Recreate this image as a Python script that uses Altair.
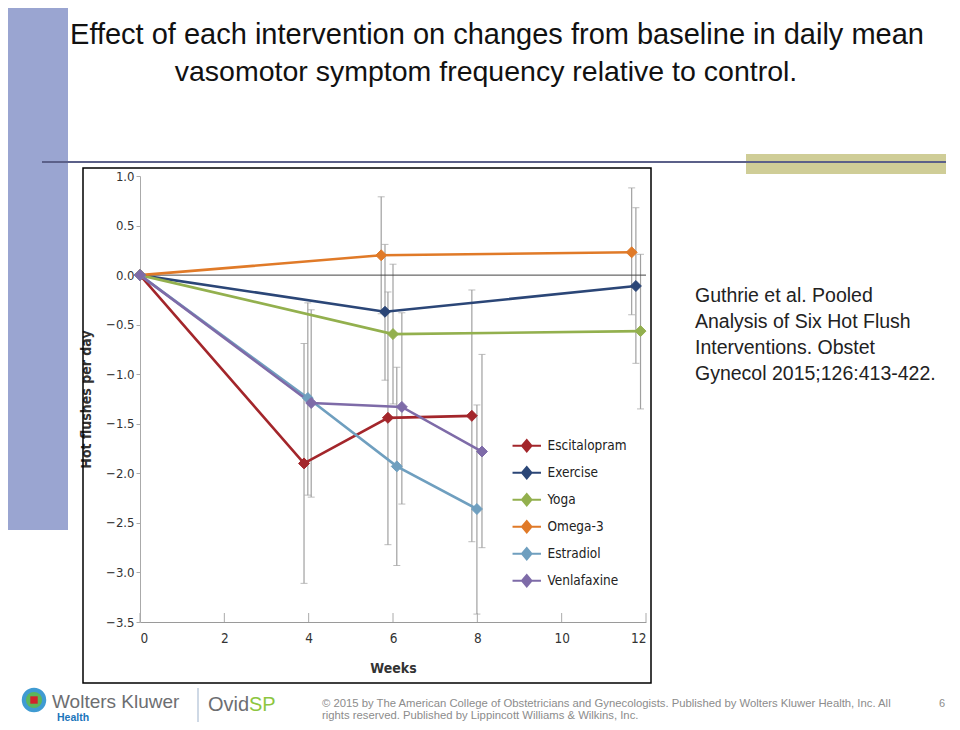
import altair as alt
import pandas as pd

# ---------------- data ----------------
series = ["Escitalopram", "Exercise", "Yoga", "Omega-3", "Estradiol", "Venlafaxine"]
colors = ["#A3262B", "#2B4677", "#93B04E", "#E07A28", "#6F9FBF", "#7E6BA8"]

esc_x = [0, 3.89, 5.88, 7.87]
esc_y = [0, -1.90, -1.44, -1.42]
esc_lo = [None, -3.11, -2.72, -2.69]
esc_hi = [None, -0.69, -0.17, -0.15]

ex_x = [0, 5.81, 11.76]
ex_y = [0, -0.37, -0.11]
ex_lo = [None, -1.06, -0.89]
ex_hi = [None, 0.31, 0.68]

yoga_x = [0, 6.0, 11.87]
yoga_y = [0, -0.595, -0.565]
yoga_lo = [None, -1.30, -1.35]
yoga_hi = [None, 0.11, 0.21]

om_x = [0, 5.72, 11.66]
om_y = [0, 0.20, 0.23]
om_lo = [None, -0.39, -0.40]
om_hi = [None, 0.79, 0.88]

est_x = [0, 3.98, 6.09, 7.99]
est_y = [0, -1.24, -1.93, -2.36]
est_lo = [None, -2.22, -2.93, -3.42]
est_hi = [None, -0.28, -0.93, -1.31]

ven_x = [0, 4.06, 6.21, 8.11]
ven_y = [0, -1.29, -1.33, -1.78]
ven_lo = [None, -2.24, -2.31, -2.75]
ven_hi = [None, -0.35, -0.38, -0.80]

x_ticks = [0, 2, 4, 6, 8, 10, 12]
y_ticks = [1.0, 0.5, 0.0, -0.5, -1.0, -1.5, -2.0, -2.5, -3.0, -3.5]

title_lines = [
    "Effect of each intervention on changes from baseline in daily mean",
    "vasomotor symptom frequency relative to control.",
]
citation_lines = [
    "Guthrie et al. Pooled",
    "Analysis of Six Hot Flush",
    "Interventions. Obstet",
    "Gynecol 2015;126:413-422.",
]
copyright_lines = [
    "\u00a9 2015 by The American College of Obstetricians and Gynecologists. Published by Wolters Kluwer Health, Inc.  All",
    "rights reserved.  Published by Lippincott Williams & Wilkins, Inc.",
]

# ---------------- table ----------------
rows = []
for name, xs, ys, los, his in [
    ("Escitalopram", esc_x, esc_y, esc_lo, esc_hi),
    ("Exercise", ex_x, ex_y, ex_lo, ex_hi),
    ("Yoga", yoga_x, yoga_y, yoga_lo, yoga_hi),
    ("Omega-3", om_x, om_y, om_lo, om_hi),
    ("Estradiol", est_x, est_y, est_lo, est_hi),
    ("Venlafaxine", ven_x, ven_y, ven_lo, ven_hi),
]:
    for i, (xv, yv, lo, hi) in enumerate(zip(xs, ys, los, his)):
        rows.append({"series": name, "order": i, "week": xv, "value": yv,
                     "lo": lo, "hi": hi})
df = pd.DataFrame(rows)

NARROW = "DejaVu Sans Condensed, Liberation Sans, Arial, sans-serif"
SANS = "Liberation Sans, Arial, sans-serif"
W, H = 506, 446

xscale = alt.Scale(domain=[0, 12], nice=False, zero=False)
yscale = alt.Scale(domain=[-3.5, 1.0], nice=False, zero=False)
cscale = alt.Scale(domain=series, range=colors)

leg = alt.Legend(title=None, orient="none", legendX=380, legendY=263,
                 symbolType="M-3,0L3,0M-1,0L0,-1.2L1,0L0,1.2Z",
                 symbolSize=90, symbolStrokeWidth=2,
                 labelFont=NARROW, labelFontSize=13.5, labelColor="#222",
                 labelOffset=14, rowPadding=7, padding=0)

xaxis = alt.Axis(values=x_ticks, format="d", ticks=False, grid=False,
                 domainColor="#9a9a9a", labelFont=NARROW, labelFontSize=13.5,
                 labelColor="#333", labelPadding=9, title="Weeks",
                 titleFont=NARROW, titleFontSize=14, titleFontWeight="bold",
                 titleColor="#333", titlePadding=17)
yaxis = alt.Axis(values=y_ticks, format=".1f", grid=False, tickSize=4,
                 tickColor="#aaa", domainColor="#aaa", labelFont=NARROW,
                 labelFontSize=13, labelColor="#333", labelPadding=2,
                 title="Hot flushes per day", titleFont=NARROW,
                 titleFontSize=14, titleFontWeight="bold", titleColor="#333",
                 titlePadding=12)

one = pd.DataFrame({"a": [0]})


def deco():
    return alt.Chart(one)


# slide decorations
left_bar = deco().mark_rect(color="#9AA5D1").encode(
    x=alt.value(-140), x2=alt.value(-72), y=alt.value(-176), y2=alt.value(354))
olive = deco().mark_rect(color="#CFCD97").encode(
    x=alt.value(606), x2=alt.value(806), y=alt.value(-22), y2=alt.value(-2))
hline = deco().mark_rule(color="#5B6089", strokeWidth=2).encode(
    x=alt.value(-98), x2=alt.value(806), y=alt.value(-14))
frame = deco().mark_rect(fillOpacity=0, stroke="black", strokeWidth=1.5).encode(
    x=alt.value(-57), x2=alt.value(511), y=alt.value(-8), y2=alt.value(507))

title1 = deco().mark_text(text=title_lines[0], font=SANS, fontSize=29,
                          align="center", baseline="alphabetic", color="#111").encode(
    x=alt.value(357), y=alt.value(-132))
title2 = deco().mark_text(text=title_lines[1], font=SANS, fontSize=28.5,
                          align="center", baseline="alphabetic", color="#111").encode(
    x=alt.value(346), y=alt.value(-95))

cit_layers = []
for i, line in enumerate(citation_lines):
    cit_layers.append(deco().mark_text(text=line, font=SANS, fontSize=19.5,
                                       align="left", baseline="alphabetic",
                                       color="#222").encode(
        x=alt.value(555), y=alt.value(126 + 26 * i)))

logo_outer = deco().mark_point(shape="circle", filled=True, size=600,
                               color="#3F9BD2", opacity=1).encode(
    x=alt.value(-106), y=alt.value(524))
logo_mid = deco().mark_point(shape="circle", filled=True, size=260,
                             color="#5DB65B", opacity=1).encode(
    x=alt.value(-106), y=alt.value(524))
logo_core = deco().mark_point(shape="square", filled=True, size=55,
                              color="#D2232A", opacity=1).encode(
    x=alt.value(-106), y=alt.value(524))
wk = deco().mark_text(text="Wolters Kluwer", font=SANS, fontSize=19,
                      align="left", baseline="alphabetic", color="#6D6E71").encode(
    x=alt.value(-88), y=alt.value(532))
health = deco().mark_text(text="Health", font=SANS, fontSize=10.5, fontWeight="bold",
                          align="left", baseline="alphabetic", color="#1B75BB").encode(
    x=alt.value(-83), y=alt.value(544.5))
vline = deco().mark_rule(color="#9FB3CC", strokeWidth=1).encode(
    x=alt.value(58), y=alt.value(512), y2=alt.value(546))
ovid = deco().mark_text(text="Ovid", font=SANS, fontSize=20,
                        align="right", baseline="alphabetic", color="#6D6E71").encode(
    x=alt.value(109), y=alt.value(535))
sp = deco().mark_text(text="SP", font=SANS, fontSize=20,
                      align="left", baseline="alphabetic", color="#8DC63F").encode(
    x=alt.value(109), y=alt.value(535))
copy1 = deco().mark_text(text=copyright_lines[0], font=SANS, fontSize=11.3,
                         align="left", baseline="alphabetic", color="#8C8C8C").encode(
    x=alt.value(182), y=alt.value(531))
copy2 = deco().mark_text(text=copyright_lines[1], font=SANS, fontSize=11.3,
                         align="left", baseline="alphabetic", color="#8C8C8C").encode(
    x=alt.value(182), y=alt.value(543))
page_no = deco().mark_text(text="6", font=SANS, fontSize=11,
                           align="right", baseline="alphabetic", color="#8C8C8C").encode(
    x=alt.value(805), y=alt.value(531))

# chart marks
base = alt.Chart(df)

zero = alt.Chart(pd.DataFrame({"z": [0.0]})).mark_rule(
    color="#444", strokeWidth=1).encode(y=alt.Y("z:Q", scale=yscale, axis=yaxis))

xticks_up = alt.Chart(pd.DataFrame({"t": x_ticks})).mark_rule(
    color="#aaa", strokeWidth=1).encode(
    x=alt.X("t:Q", scale=xscale, axis=xaxis), y=alt.value(H - 9), y2=alt.value(H))

err = base.transform_filter("isValid(datum.lo)").mark_rule(
    color="#A0A0A0", strokeWidth=1.2).encode(
    x=alt.X("week:Q", scale=xscale, axis=xaxis),
    y=alt.Y("lo:Q", scale=yscale, axis=yaxis), y2="hi:Q")
cap_lo = base.transform_filter("isValid(datum.lo)").mark_tick(
    color="#A0A0A0", orient="horizontal", size=7, thickness=1).encode(
    x=alt.X("week:Q", scale=xscale), y=alt.Y("lo:Q", scale=yscale))
cap_hi = base.transform_filter("isValid(datum.hi)").mark_tick(
    color="#A0A0A0", orient="horizontal", size=7, thickness=1).encode(
    x=alt.X("week:Q", scale=xscale), y=alt.Y("hi:Q", scale=yscale))

lines = base.mark_line(strokeWidth=2.6).encode(
    x=alt.X("week:Q", scale=xscale, axis=xaxis),
    y=alt.Y("value:Q", scale=yscale, axis=yaxis),
    stroke=alt.Stroke("series:N", scale=cscale, legend=leg, sort=series),
    order="order:Q")
points = base.mark_point(shape="diamond", filled=True, size=120, opacity=1,
                         strokeWidth=1).encode(
    x=alt.X("week:Q", scale=xscale),
    y=alt.Y("value:Q", scale=yscale),
    fill=alt.Fill("series:N", scale=cscale, legend=leg, sort=series),
    stroke=alt.Stroke("series:N", scale=cscale, legend=leg, sort=series))

chart = alt.layer(
    left_bar, olive, hline, frame,
    title1, title2, *cit_layers,
    logo_outer, logo_mid, logo_core, wk, health, vline, ovid, sp,
    copy1, copy2, page_no,
    err, cap_lo, cap_hi, zero, xticks_up, lines, points,
).properties(
    width=W, height=H,
    autosize=alt.AutoSizeParams(type="none"),
    padding={"left": 132, "top": 168, "right": 306, "bottom": 100},
    background="white",
).configure_view(stroke=None)

chart.save("out.html", embed_options={"renderer": "svg", "actions": False})
